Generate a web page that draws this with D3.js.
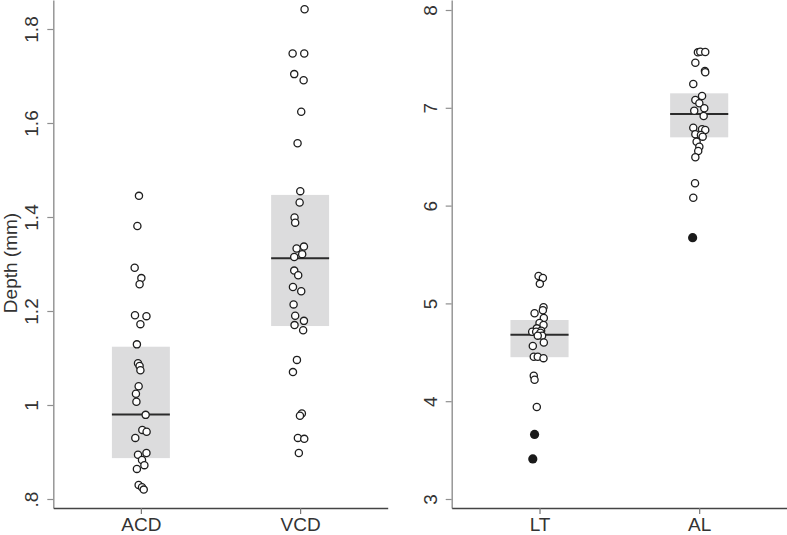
<!DOCTYPE html>
<html><head><meta charset="utf-8">
<script src="https://cdn.jsdelivr.net/npm/d3@7"></script>
<style>
body{margin:0;background:#fff}
svg{display:block}
text{font-family:"Liberation Sans",Arial,Helvetica,sans-serif;fill:#333}
</style>
</head><body>
<svg id="chart" width="787" height="535"></svg>
<script>
// ---------- data ----------
const leftCategories = ["ACD", "VCD"];
const rightCategories = ["LT", "AL"];
const leftTickValues = [0.8, 1.0, 1.2, 1.4, 1.6, 1.8];
const leftTickLabels = [".8", "1", "1.2", "1.4", "1.6", "1.8"];
const rightTickValues = [3, 4, 5, 6, 7, 8];
const rightTickLabels = ["3", "4", "5", "6", "7", "8"];
const yTitle = "Depth (mm)";

const acdValues = [1.445,1.381,1.292,1.270,1.257,1.191,1.189,1.172,1.129,1.089,1.083,1.074,1.040,1.024,1.007,0.979,0.947,0.943,0.930,0.898,0.894,0.883,0.872,0.864,0.830,0.825,0.820];
const acdJitter = [-1.2,-2.2,-3.9,0.3,-0.8,-3.7,3.5,-0.3,-2.5,-1.8,-0.8,-0.3,-1.4,-3.1,-2.8,3.0,0.9,3.6,-3.5,3.5,-1.8,0.7,2.2,-2.5,-1.4,0.7,1.8];

const vcdValues = [1.842,1.748,1.748,1.704,1.691,1.624,1.557,1.455,1.431,1.399,1.388,1.337,1.333,1.321,1.315,1.286,1.276,1.251,1.242,1.214,1.190,1.179,1.170,1.159,1.096,1.070,0.982,0.977,0.930,0.928,0.898];
const vcdJitter = [2.8,-4.7,2.6,-3.7,2.2,0.7,-1.6,0.1,-0.3,-3.5,-3.1,2.4,-2.2,1.3,-3.7,-3.7,-1.2,-4.5,0.7,-4.1,-3.1,2.4,-3.5,1.9,-2.0,-4.5,1.1,-0.1,-1.4,2.6,-0.8];

const ltValues = [5.28,5.26,5.20,4.96,4.93,4.90,4.85,4.80,4.78,4.745,4.72,4.71,4.71,4.70,4.67,4.67,4.60,4.565,4.455,4.455,4.44,4.26,4.22,3.94];
const ltJitter = [-0.6,2.1,0.2,2.5,2.1,-3.1,2.7,0,2.5,-1.7,1.0,-4.6,-2.1,0.6,1.6,-1.1,2.7,-4.2,-3.6,-1.1,2.5,-3.6,-3.1,-1.7];
const ltOutliers = [3.66, 3.41];
const ltOutlierJitter = [-3.1, -4.2];

const alValues = [7.567,7.574,7.571,7.461,7.376,7.363,7.243,7.121,7.080,7.046,6.995,6.970,6.916,6.797,6.780,6.773,6.729,6.722,6.705,6.653,6.602,6.558,6.494,6.228,6.081];
const alJitter = [-0.8,0.7,3.8,-2.4,3.6,3.8,-3.7,1.8,-2.4,0.1,3.2,-3.1,2.8,-3.7,1.8,3.8,-2.4,1.1,2.2,-1.6,0.1,-0.6,-2.4,-2.6,-3.7];
const alOutliers = [5.672];
const alOutlierJitter = [-4.1];

// box: lower, median, upper
const acdBox = [0.887, 0.980, 1.124];
const vcdBox = [1.168, 1.312, 1.447];
const ltBox = [4.45, 4.68, 4.83];
const alBox = [6.698, 6.937, 7.148];

// ---------- drawing ----------
const svg = d3.select("#chart");
const H = 535;
const plotBottom = 508;

function panel(cfg) {
  const x = d3.scaleLinear().domain([0.45, 2.55]).range(cfg.xRange);
  const y = d3.scaleLinear().domain(cfg.yDomain).range([plotBottom, 0]);
  const g = svg.append("g");
  const boxHalf = 0.182;

  cfg.groups.forEach((grp, i) => {
    const c = i + 1;
    // box
    g.append("rect")
      .attr("x", x(c - boxHalf)).attr("width", x(c + boxHalf) - x(c - boxHalf))
      .attr("y", y(grp.box[2])).attr("height", y(grp.box[0]) - y(grp.box[2]))
      .attr("fill", "#dcdcdd");
    g.append("line")
      .attr("x1", x(c - boxHalf)).attr("x2", x(c + boxHalf))
      .attr("y1", y(grp.box[1])).attr("y2", y(grp.box[1]))
      .attr("stroke", "#2b2b2b").attr("stroke-width", 2);
    // points
    g.selectAll(null).data(grp.values.map((v, k) => ({v, j: grp.jitter[k]})))
      .join("circle")
      .attr("cx", d => x(c + d.j / 100)).attr("cy", d => y(d.v))
      .attr("r", 3.6).attr("fill", "#fff").attr("stroke", "#1e1e1e").attr("stroke-width", 1.3);
    if (grp.outliers) {
      g.selectAll(null).data(grp.outliers.map((v, k) => ({v, j: grp.outlierJitter[k]})))
        .join("circle")
        .attr("cx", d => x(c + d.j / 100)).attr("cy", d => y(d.v))
        .attr("r", 4.6).attr("fill", "#1a1a1a");
    }
  });

  // y axis
  const ya = g.append("g").attr("transform", `translate(${cfg.xRange[0]},0)`)
    .call(d3.axisLeft(y).tickValues(cfg.tickValues).tickSize(6).tickSizeOuter(0)
      .tickFormat((d, i) => cfg.tickLabels[i]));
  ya.select(".domain").attr("stroke", "#8f8f8f").attr("stroke-width", 1.4);
  ya.selectAll(".tick line").attr("stroke", "#8f8f8f").attr("stroke-width", 1.2);
  ya.selectAll(".tick text")
    .attr("transform", "rotate(-90)")
    .attr("x", 0).attr("y", -15).attr("dy", null)
    .attr("text-anchor", "middle")
    .style("font-size", "19px").style("font-family", '"Liberation Sans",Arial,sans-serif').attr("fill", "#333");

  // x axis
  const xa = g.append("g").attr("transform", `translate(0,${plotBottom})`)
    .call(d3.axisBottom(x).tickValues([1, 2]).tickSize(6).tickSizeOuter(0)
      .tickFormat((d, i) => cfg.categories[i]));
  xa.select(".domain").attr("stroke", "#444").attr("stroke-width", 1.4);
  xa.selectAll(".tick line").attr("stroke", "#777").attr("stroke-width", 1.2);
  xa.selectAll(".tick text").attr("y", 23).attr("dy", null)
    .style("font-size", "19px").style("font-family", '"Liberation Sans",Arial,sans-serif').attr("fill", "#333");
}

panel({
  xRange: [53.3, 387.7],
  yDomain: [0.8 - 9 / 470, 0.8 + 499 / 470],
  tickValues: leftTickValues, tickLabels: leftTickLabels,
  categories: leftCategories,
  groups: [
    {values: acdValues, jitter: acdJitter, box: acdBox},
    {values: vcdValues, jitter: vcdJitter, box: vcdBox}
  ]
});

panel({
  xRange: [451.7, 787],
  yDomain: [3 - 9 / 97.8, 3 + 499 / 97.8],
  tickValues: rightTickValues, tickLabels: rightTickLabels,
  categories: rightCategories,
  groups: [
    {values: ltValues, jitter: ltJitter, box: ltBox, outliers: ltOutliers, outlierJitter: ltOutlierJitter},
    {values: alValues, jitter: alJitter, box: alBox, outliers: alOutliers, outlierJitter: alOutlierJitter}
  ]
});

svg.append("text")
  .attr("transform", "translate(17,263) rotate(-90)")
  .attr("text-anchor", "middle")
  .style("font-size", "19px")
  .text(yTitle);
</script>
</body></html>
